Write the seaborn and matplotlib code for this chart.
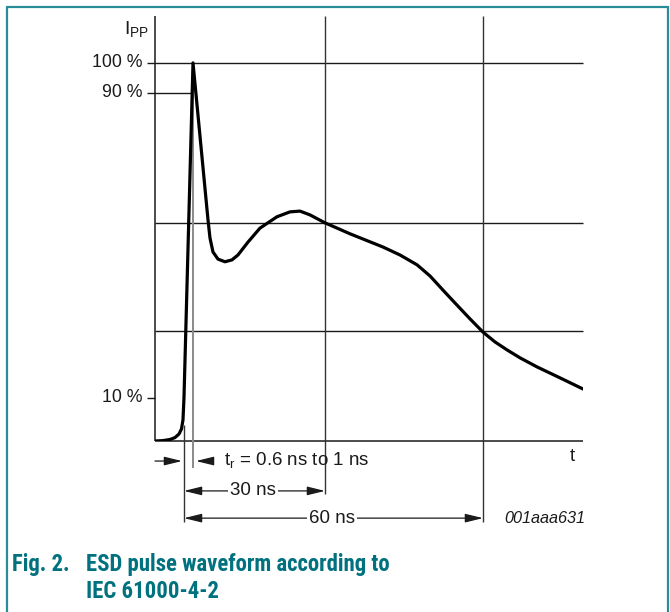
import matplotlib
matplotlib.use("Agg")
import matplotlib.pyplot as plt
import seaborn as sns
import pandas as pd
from matplotlib.lines import Line2D
from matplotlib import font_manager

sns.set_theme(style="white")
plt.rcParams['font.family'] = ['Liberation Sans', 'DejaVu Sans']
plt.rcParams['mathtext.fontset'] = 'custom'
plt.rcParams['mathtext.rm'] = 'Liberation Sans'

# ---- data (schematic, t in ns from the 10 % point, current in % of Ipp) ----
t_ns = [-5.82, -4.22, -2.81, -1.81, -1.00, -0.50, -0.20, 0.0, 1.81,
        4.82, 5.22, 5.82, 6.83, 8.23, 9.64, 10.84, 12.85, 15.26, 18.67,
        21.29, 23.29, 25.30, 28.31, 33.33, 39.96, 43.37, 46.79, 49.40,
        52.01, 54.42, 57.43, 60.04, 62.45, 64.86, 67.47, 70.88, 75.50,
        80.52]
ipp_pct = [0.0, 0.1, 0.4, 0.9, 1.85, 3.2, 5.6, 11.4, 100.0,
           58.5, 53.7, 50.0, 48.1, 47.4, 47.9, 49.2, 52.6, 56.3, 59.3,
           60.6, 60.8, 59.8, 57.7, 54.8, 51.3, 49.2, 46.6, 43.65,
           39.9, 36.5, 32.3, 28.8, 26.2, 24.1, 22.0, 19.6, 16.7,
           13.5]
tick_levels = [100.0, 92.1, 11.4]
tick_labels = ['100 %', '90 %', '10 %']
grid_levels = [57.7, 29.1]
marker_times = [28.31, 60.04]       # the "30 ns" and "60 ns" points
t_peak = 1.71
t_ten = 0.0
annot_labels = ['t$_\\mathregular{r}$ = 0.6 ns to 1 ns', '30 ns', '60 ns']

df = pd.DataFrame({'t': t_ns, 'ipp': ipp_pct})

W, H = 670, 612
fig = plt.figure(figsize=(W / 100, H / 100), dpi=100)
fig.patch.set_facecolor('white')
x0, x1, y0, y1 = 155, 583, 16, 441
ax = fig.add_axes([x0 / W, 1 - y1 / H, (x1 - x0) / W, (y1 - y0) / H])
xmin, xmax = -5.82, 80.12
ymin, ymax = 0.0, 112.4
ax.set_xlim(xmin, xmax)
ax.set_ylim(ymin, ymax)
ax.axis('off')

dark = '#1a1a1a'
ax.vlines(xmin, 0, ymax, color=dark, lw=1.1, clip_on=False)
ax.hlines(0, xmin, xmax, color=dark, lw=1.1, clip_on=False)
ax.hlines(tick_levels[0], -7.43, xmax, color=dark, lw=1.0, clip_on=False)
ax.hlines(tick_levels[1], -7.43, 1.61, color=dark, lw=1.0, clip_on=False)
ax.hlines(tick_levels[2], -7.43, xmin, color=dark, lw=1.0, clip_on=False)
for lv in grid_levels:
    ax.hlines(lv, xmin, xmax, color=dark, lw=1.0, clip_on=False)
ax.vlines(marker_times[0], -14.0, ymax, color='#333333', lw=1.0, clip_on=False)
ax.vlines(marker_times[1], -21.4, ymax, color='#333333', lw=1.0, clip_on=False)
ax.vlines(t_ten, -21.4, 4.2, color='#333333', lw=1.0, clip_on=False)
ax.vlines(t_peak, -7.2, 100, color='#8a8a8a', lw=1.4, clip_on=False)

sns.lineplot(data=df, x='t', y='ipp', ax=ax, sort=False, estimator=None,
             color='black', lw=2.3, legend=False)
ax.axis('off')

fs = 13.5
for lv, lab in zip(tick_levels, tick_labels):
    ax.text(-8.43, lv, lab, ha='right', va='center', fontsize=12.8, color=dark)
ax.text(-7.0, 108.7, 'I$_\\mathregular{PP}$', ha='right', va='center',
        fontsize=14, color=dark)
ax.text(77.9, -4.2, 't', ha='center', va='center', fontsize=fs, color=dark)
ax.text(80.5, -20.4, '001aaa631', ha='right', va='center', fontsize=11.7,
        style='italic', color=dark)

aprops = dict(arrowstyle='-|>,head_length=0.9,head_width=0.22', color=dark,
              lw=0.9, shrinkA=0, shrinkB=0)
ax.annotate('', xy=(-0.4, -5.3), xytext=(-5.82, -5.3), arrowprops=aprops,
            annotation_clip=False)
ax.annotate('', xy=(2.41, -5.3), xytext=(5.6, -5.3), arrowprops=aprops,
            annotation_clip=False)
ax.text(8.03, -5.3, annot_labels[0], ha='left', va='center', fontsize=fs,
        color=dark)
for tm, yy, lab in [(marker_times[0], -13.2, annot_labels[1]),
                    (marker_times[1], -20.4, annot_labels[2])]:
    ax.annotate('', xy=(t_ten, yy), xytext=(tm / 2, yy), arrowprops=aprops,
                annotation_clip=False)
    ax.annotate('', xy=(tm, yy), xytext=(tm / 2, yy), arrowprops=aprops,
                annotation_clip=False)
    ax.text(tm / 2 - 0.3, yy, lab, ha='center', va='center', fontsize=fs,
            color=dark, bbox=dict(boxstyle='square,pad=0.12', fc='white',
                                  ec='none'), zorder=5)

teal = '#2b8c99'
fig.add_artist(Line2D([7 / W, 668 / W], [1 - 7 / H, 1 - 7 / H], color=teal,
                      lw=1.6, transform=fig.transFigure))
fig.add_artist(Line2D([7 / W, 7 / W], [0, 1 - 7 / H], color=teal, lw=1.6,
                      transform=fig.transFigure))
fig.add_artist(Line2D([668 / W, 668 / W], [0, 1 - 7 / H], color=teal, lw=1.6,
                      transform=fig.transFigure))

# caption: prefer a condensed bold face if one is installed
names = {f.name for f in font_manager.fontManager.ttflist}
cands = ['Liberation Sans Narrow', 'Roboto Condensed', 'DejaVu Sans Condensed',
         'Open Sans Condensed', 'Noto Sans Condensed']
cfam = [c for c in cands if c in names]
cap = '#00717f'
if cfam:
    cfam = [cfam[0], 'Liberation Sans']
    stretch = 'condensed'
else:
    cfam = ['Liberation Sans']
    stretch = 'normal'
cfs = 16.4
kw = dict(ha='left', va='center', fontweight='bold', color=cap, family=cfam,
          fontstretch=stretch)
t1 = fig.text(12 / W, 1 - 564 / H, 'Fig. 2.', fontsize=cfs, **kw)
t2 = fig.text(86 / W, 1 - 564 / H, 'ESD pulse waveform according to',
              fontsize=cfs, **kw)
t3 = fig.text(86 / W, 1 - 592 / H, 'IEC 61000-4-2', fontsize=cfs, **kw)
# fit caption width to the figure's caption line (302 px wide)
fig.canvas.draw()
r = fig.canvas.get_renderer()
w = t2.get_window_extent(r).width
if w > 320:
    f = cfs * 302.0 / w
    for t in (t1, t2, t3):
        t.set_fontsize(f)

fig.savefig('out.png', dpi=100, facecolor='white')
